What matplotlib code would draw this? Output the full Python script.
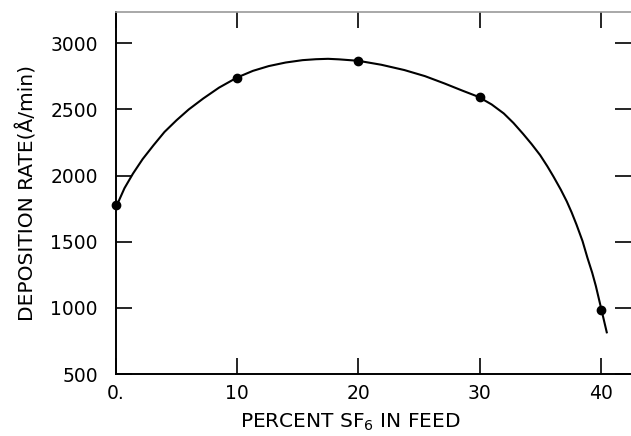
import matplotlib
matplotlib.use('Agg')
import matplotlib.pyplot as plt

# measured points
sf6_pct = [0, 10, 20, 30, 40]
dep_rate = [1780, 2740, 2865, 2595, 985]

# hand drawn curve through the points
curve_x = [0.1, 0.7, 1.4, 2.2, 3.1, 4.0, 5.0, 6.0, 7.2, 8.5, 10.0, 11.3, 12.6,
           14.0, 15.4, 16.5, 17.5, 18.4, 20.0, 21.9, 23.8, 25.5, 27.1, 28.6,
           29.9, 31.0, 32.0, 32.8, 33.6, 34.3, 35.0, 35.6, 36.1, 36.7, 37.2,
           37.6, 38.0, 38.5, 38.9, 39.3, 39.6, 40.0, 40.5]
curve_y = [1782, 1905, 2015, 2125, 2230, 2330, 2419, 2500, 2583, 2665, 2742,
           2792, 2828, 2855, 2873, 2880, 2883, 2879, 2868, 2838, 2798, 2752,
           2697, 2642, 2596, 2538, 2470, 2398, 2315, 2238, 2155, 2070, 1993,
           1895, 1805, 1722, 1630, 1505, 1380, 1265, 1165, 1010, 815]

yticks = [500, 1000, 1500, 2000, 2500, 3000]
xticks = [0, 10, 20, 30, 40]
xticklabels = ['0.', '10', '20', '30', '40']

fig = plt.figure(figsize=(6.31, 4.36), dpi=100)
ax = fig.add_axes([116/631, 1 - 374/436, 515/631, 362/436])

ax.plot(curve_x, curve_y, color='black', lw=1.5, clip_on=False)
ax.plot(sf6_pct, dep_rate, 'o', color='black', ms=6, clip_on=False)

ax.set_xlim(0, 42.5)
ax.set_ylim(500, 3237)

ax.set_xticks(xticks)
ax.set_xticklabels(xticklabels)
ax.set_yticks(yticks)
ax.set_yticklabels([str(v) for v in yticks])

ax.tick_params(axis='both', direction='in', length=11.5, width=1.2,
               labelsize=13.5, colors='black')
ax.tick_params(axis='x', top=True, pad=7)
ax.tick_params(axis='y', right=True, pad=13)

ax.spines['right'].set_visible(False)
ax.spines['top'].set_color('#999999')
ax.spines['top'].set_linewidth(1.2)
ax.spines['left'].set_linewidth(1.4)
ax.spines['bottom'].set_linewidth(1.4)

ax.set_ylabel('DEPOSITION RATE(Å/min)', fontsize=14.5)
ax.yaxis.set_label_coords(-0.152, 0.5)
ax.set_xlabel('PERCENT SF$_6$ IN FEED', fontsize=14.5, va='top')
ax.xaxis.set_label_coords(0.454, -0.105)

fig.savefig('out.png', dpi=100)
